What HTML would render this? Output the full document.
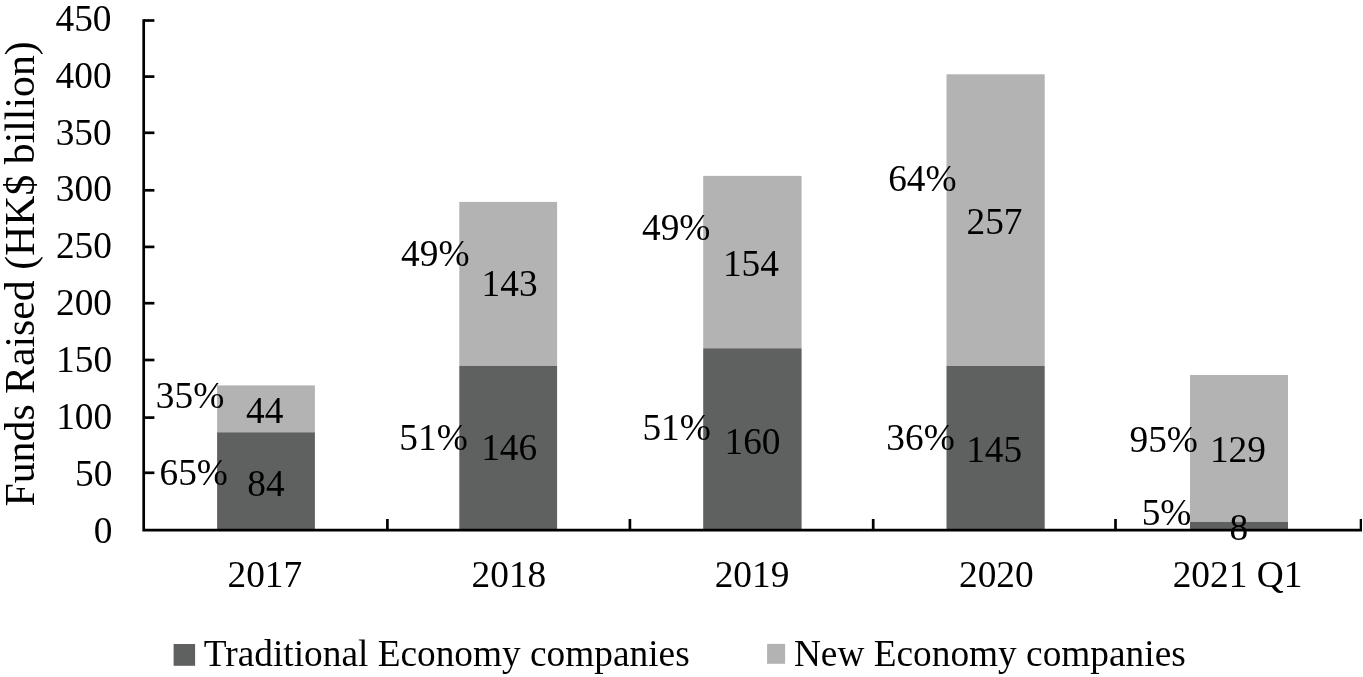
<!DOCTYPE html>
<html lang="en">
<head>
<meta charset="utf-8">
<title>Funds Raised</title>
<style>
html,body{margin:0;padding:0;background:#fff;}
body{width:1363px;height:677px;overflow:hidden;}
svg{display:block;}
text{font-family:"Liberation Serif","Times New Roman",serif;font-size:37.33px;fill:#000;}
</style>
</head>
<body>
<svg width="1363" height="677" viewBox="0 0 1363 677">
<rect x="0" y="0" width="1363" height="677" fill="#ffffff"/>
<rect x="217.1" y="385.4" width="97.8" height="46.9" fill="#b3b3b3"/>
<rect x="217.1" y="432.3" width="97.8" height="97.8" fill="#5f6160"/>
<rect x="459.3" y="201.9" width="97.8" height="164.0" fill="#b3b3b3"/>
<rect x="459.3" y="365.9" width="97.8" height="164.2" fill="#5f6160"/>
<rect x="703.2" y="175.9" width="98.4" height="172.4" fill="#b3b3b3"/>
<rect x="703.2" y="348.3" width="98.4" height="181.8" fill="#5f6160"/>
<rect x="946.5" y="74.3" width="98.2" height="291.7" fill="#b3b3b3"/>
<rect x="946.5" y="366.0" width="98.2" height="164.1" fill="#5f6160"/>
<rect x="1190.0" y="375.0" width="98.0" height="146.9" fill="#b3b3b3"/>
<rect x="1190.0" y="521.9" width="98.0" height="8.2" fill="#5f6160"/>
<g stroke="#000" stroke-width="2.7" fill="none">
<path d="M143.7 19.15 V530.10 H1362.0"/>
<path d="M143.7 20.50 H154.4"/>
<path d="M143.7 76.60 H154.4"/>
<path d="M143.7 132.80 H154.4"/>
<path d="M143.7 190.30 H154.4"/>
<path d="M143.7 246.90 H154.4"/>
<path d="M143.7 303.20 H154.4"/>
<path d="M143.7 360.00 H154.4"/>
<path d="M143.7 417.60 H154.4"/>
<path d="M143.7 472.80 H154.4"/>
<path d="M387.40 530.1 V519.0"/>
<path d="M629.90 530.1 V519.0"/>
<path d="M873.20 530.1 V519.0"/>
<path d="M1115.50 530.1 V519.0"/>
<path d="M1360.85 530.1 V519.0" stroke-width="2.3"/>
</g>
<text x="111.5" y="30.8" text-anchor="end">450</text>
<text x="111.6" y="87.7" text-anchor="end">400</text>
<text x="111.7" y="144.6" text-anchor="end">350</text>
<text x="111.8" y="201.4" text-anchor="end">300</text>
<text x="111.9" y="258.3" text-anchor="end">250</text>
<text x="112.0" y="315.2" text-anchor="end">200</text>
<text x="112.1" y="372.1" text-anchor="end">150</text>
<text x="112.2" y="429.0" text-anchor="end">100</text>
<text x="112.3" y="485.8" text-anchor="end">50</text>
<text x="112.4" y="542.7" text-anchor="end">0</text>
<text x="227.5" y="586.8">2017</text>
<text x="508.9" y="586.8" text-anchor="middle">2018</text>
<text x="714.7" y="586.8">2019</text>
<text x="959.0" y="586.8">2020</text>
<text x="1172.7" y="586.8">2021 Q1</text>
<text x="155.8" y="407.8">35%</text>
<text x="246.0" y="423.3">44</text>
<text x="159.5" y="485.0">65%</text>
<text x="247.3" y="496.2">84</text>
<text x="401.1" y="265.5">49%</text>
<text x="481.6" y="296.0">143</text>
<text x="399.3" y="450.3">51%</text>
<text x="481.2" y="460.4">146</text>
<text x="642.0" y="240.4">49%</text>
<text x="722.9" y="275.7">154</text>
<text x="642.4" y="440.2">51%</text>
<text x="724.5" y="454.1">160</text>
<text x="888.2" y="190.8">64%</text>
<text x="966.5" y="234.2">257</text>
<text x="886.3" y="449.8">36%</text>
<text x="966.2" y="461.6">145</text>
<text x="1129.5" y="451.6">95%</text>
<text x="1209.9" y="461.6">129</text>
<text x="1141.7" y="525.2">5%</text>
<text x="1229.6" y="540.0">8</text>
<rect x="173.6" y="644" width="21.5" height="21.8" fill="#5f6160"/>
<text x="203.8" y="666">Traditional Economy companies</text>
<rect x="767.1" y="643.9" width="18" height="19.9" fill="#b3b3b3"/>
<text x="793.9" y="666">New Economy companies</text>
<text transform="translate(34.3 506.5) rotate(-90) scale(1 1.023)" style="font-size:41.77px">Funds Raised (HK$ billion)</text>
</svg>
</body>
</html>
